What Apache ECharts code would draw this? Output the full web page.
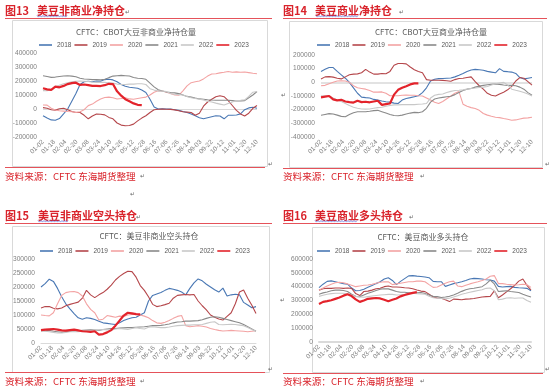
<!DOCTYPE html>
<html><head><meta charset="utf-8">
<script src="https://cdn.jsdelivr.net/npm/echarts/dist/echarts.min.js"></script>
<style>html,body{margin:0;padding:0;background:#fff}#c{width:550px;height:388px}</style>
</head><body><div id="c"></div><script>
// ---------- data ----------
const tickLabels = ['01-02','01-18','02-04','02-20','03-08','03-24','04-10','04-26','05-12','05-28','06-16','07-06','07-26','08-14','09-03','09-22','10-12','11-01','11-20','12-10'];
const years = ['2018','2019','2020','2021','2022','2023'];
const weekCount = 53;

// 图13 美豆非商业净持仓
const nc_net_2018 = [-48000,-65000,-78000,-80000,-68000,-35000,0,55000,110000,175000,195000,198000,195000,200000,198000,210000,212000,208000,195000,175000,162000,155000,152000,148000,135000,118000,70000,15000,0,2000,0,0,-5000,-10000,-18000,-25000,-35000,-48000,-62000,-70000,-62000,-55000,-48000,-50000,-70000,-45000,-45000,-43000,-35000,-5000,8000,12000,5000];
const nc_net_2019 = [10000,5000,-5000,-8000,2000,5000,-5000,-18000,-25000,-25000,-45000,-70000,-50000,-36000,-38000,-42000,-60000,-70000,-100000,-115000,-120000,-118000,-108000,-85000,-65000,-48000,-25000,-5000,-2000,0,-2000,-3000,-6000,-12000,-20000,-22000,-25000,-45000,-30000,20000,50000,70000,88000,95000,88000,60000,25000,-10000,-35000,-50000,-30000,5000,25000];
const nc_net_2020 = [29000,28000,5000,-7000,-12000,-15000,-18000,-20000,-24000,-20000,-5000,24000,35000,55000,71000,82000,85000,80000,71000,75000,80000,72000,70000,75000,80000,85000,100000,120000,130000,128000,120000,110000,100000,98000,130000,165000,188000,195000,200000,215000,235000,250000,252000,258000,262000,268000,262000,265000,262000,264000,260000,255000,252000];
const nc_net_2021 = [238000,232000,226000,228000,232000,236000,238000,235000,230000,220000,214000,212000,210000,210000,208000,212000,224000,235000,238000,240000,238000,236000,225000,220000,218000,212000,185000,158000,138000,128000,122000,118000,115000,110000,100000,90000,85000,78000,72000,70000,66000,64000,63000,62000,62000,63000,60000,57000,58000,60000,80000,100000,125000];
const nc_net_2022 = [131000,130000,140000,158000,170000,180000,188000,194000,198000,200000,198000,196000,192000,190000,190000,190000,188000,185000,178000,175000,175000,178000,178000,180000,180000,175000,145000,135000,128000,128000,125000,110000,105000,103000,100000,90000,80000,75000,70000,65000,55000,50000,42000,35000,28000,40000,50000,60000,62000,65000,90000,120000,125000];
const nc_net_2023 = [148000,140000,136000,160000,155000,165000,178000,185000,188000,172000,175000,170000,165000,165000,164000,170000,180000,178000,126000,95000,70000,55000,40000,30000,28000];

// 图14 美豆商业净持仓
const c_net_2018 = [80000,95000,108000,108000,80000,55000,30000,0,-40000,-80000,-108000,-112000,-115000,-125000,-130000,-137000,-142000,-145000,-152000,-155000,-130000,-118000,-112000,-105000,-98000,-75000,-40000,10000,22000,27000,28000,30000,32000,40000,52000,65000,80000,90000,95000,92000,88000,80000,75000,70000,100000,80000,78000,75000,65000,35000,25000,30000,35000];
const c_net_2019 = [24000,40000,42000,38000,30000,25000,40000,55000,60000,62000,70000,95000,75000,60000,60000,65000,63000,80000,125000,138000,138000,135000,112000,92000,80000,70000,20000,15000,15000,15000,14000,12000,8000,20000,28000,30000,35000,40000,5000,-25000,-50000,-80000,-95000,-100000,-85000,-72000,-55000,-30000,10000,35000,30000,5000,-20000];
const c_net_2020 = [-25000,-22000,-10000,0,10000,12000,10000,0,-25000,-40000,-45000,-50000,-60000,-72000,-72000,-70000,-80000,-98000,-98000,-98000,-95000,-93000,-95000,-95000,-98000,-100000,-115000,-130000,-145000,-155000,-140000,-120000,-100000,-80000,-68000,-160000,-175000,-185000,-192000,-205000,-228000,-240000,-248000,-255000,-258000,-265000,-270000,-278000,-275000,-268000,-262000,-260000,-255000];
const c_net_2021 = [-241000,-235000,-229000,-232000,-240000,-249000,-252000,-235000,-222000,-215000,-215000,-215000,-212000,-207000,-205000,-215000,-225000,-235000,-243000,-245000,-240000,-232000,-225000,-220000,-222000,-215000,-190000,-145000,-122000,-115000,-110000,-105000,-102000,-90000,-75000,-60000,-50000,-45000,-35000,-28000,-22000,-18000,-15000,-12000,-15000,-20000,-22000,-22000,-25000,-35000,-50000,-75000,-95000];
const c_net_2022 = [-98000,-100000,-100000,-115000,-130000,-140000,-155000,-170000,-182000,-190000,-195000,-196000,-195000,-190000,-185000,-182000,-175000,-170000,-165000,-165000,-163000,-163000,-162000,-163000,-160000,-158000,-155000,-115000,-95000,-88000,-85000,-75000,-66000,-60000,-58000,-55000,-50000,-45000,-42000,-38000,-35000,-30000,-20000,-10000,-5000,0,-20000,-50000,-58000,-65000,-75000,-85000,-100000];
const c_net_2023 = [-110000,-105000,-100000,-125000,-132000,-128000,-140000,-145000,-148000,-135000,-145000,-142000,-146000,-140000,-135000,-165000,-160000,-155000,-90000,-55000,-40000,-28000,-15000,-8000,-7000];

// 图15 美豆非商业空头持仓
const nc_short_2018 = [200000,212000,228000,220000,195000,165000,140000,122000,105000,90000,85000,90000,88000,84000,78000,72000,70000,68000,66000,72000,80000,86000,90000,92000,100000,108000,150000,170000,175000,180000,188000,195000,192000,188000,182000,172000,195000,215000,229000,222000,210000,200000,190000,182000,196000,168000,172000,174000,172000,145000,136000,126000,130000];
const nc_short_2019 = [125000,130000,130000,124000,122000,125000,133000,138000,142000,146000,160000,188000,172000,162000,172000,180000,192000,207000,225000,238000,248000,256000,255000,235000,205000,188000,165000,138000,130000,133000,137000,142000,160000,170000,172000,173000,172000,173000,150000,133000,118000,100000,92000,86000,82000,95000,108000,140000,182000,189000,160000,135000,105000];
const nc_short_2020 = [100000,98000,97000,108000,140000,170000,180000,183000,184000,180000,168000,140000,120000,108000,82000,85000,98000,95000,92000,96000,95000,100000,102000,102000,100000,96000,90000,80000,72000,70000,74000,80000,88000,95000,98000,62000,58000,60000,62000,60000,57000,52000,48000,45000,43000,44000,45000,44000,43000,42000,40000,42000,44000];
const nc_short_2021 = [45000,44000,45000,42000,40000,38000,40000,42000,43000,44000,45000,46000,47000,46000,45000,48000,50000,52000,52000,53000,54000,55000,55000,56000,57000,58000,60000,62000,62000,63000,65000,68000,72000,75000,76000,78000,78000,79000,80000,83000,88000,92000,94000,92000,88000,84000,80000,76000,72000,66000,58000,50000,42000];
const nc_short_2022 = [42000,42000,40000,38000,36000,36000,38000,40000,40000,40000,42000,44000,44000,46000,47000,48000,47000,46000,50000,52000,50000,48000,52000,55000,52000,50000,56000,58000,56000,55000,55000,57000,60000,62000,63000,64000,64000,65000,65000,66000,70000,74000,76000,66000,65000,66000,67000,66000,64000,62000,55000,48000,42000];
const nc_short_2023 = [46000,48000,49000,50000,48000,45000,44000,46000,48000,45000,42000,41000,40000,42000,30000,32000,38000,46000,62000,80000,98000,108000,106000,103000,102000];

// 图16 美豆商业多头持仓
const c_long_2018 = [393000,418000,438000,442000,435000,428000,422000,418000,390000,370000,372000,382000,395000,408000,422000,435000,455000,465000,445000,415000,438000,458000,478000,480000,476000,474000,470000,465000,438000,436000,436000,402000,412000,422000,428000,435000,445000,456000,460000,458000,455000,450000,448000,440000,402000,398000,400000,402000,395000,392000,390000,388000,370000];
const c_long_2019 = [375000,385000,388000,388000,390000,390000,388000,390000,388000,350000,336000,365000,368000,375000,385000,388000,400000,405000,398000,398000,396000,392000,390000,385000,376000,368000,364000,345000,325000,318000,316000,305000,292000,310000,308000,305000,310000,312000,315000,320000,325000,328000,330000,370000,320000,340000,362000,385000,410000,440000,455000,410000,376000];
const c_long_2020 = [375000,390000,405000,418000,428000,432000,428000,420000,410000,400000,405000,410000,412000,418000,425000,432000,435000,435000,415000,420000,425000,430000,435000,436000,440000,440000,436000,415000,395000,398000,412000,425000,435000,440000,405000,400000,410000,420000,428000,435000,445000,456000,475000,480000,422000,422000,418000,415000,412000,414000,418000,415000,395000];
const c_long_2021 = [345000,355000,362000,370000,375000,375000,372000,365000,345000,330000,328000,340000,352000,362000,372000,382000,385000,384000,375000,365000,360000,360000,356000,352000,355000,358000,350000,340000,330000,328000,322000,325000,330000,340000,352000,366000,378000,385000,388000,394000,400000,420000,448000,420000,365000,368000,370000,365000,362000,358000,345000,335000,325000];
const c_long_2022 = [330000,338000,345000,350000,352000,352000,352000,348000,340000,330000,326000,324000,328000,332000,336000,340000,342000,344000,344000,340000,342000,345000,350000,352000,350000,348000,345000,330000,320000,316000,314000,312000,316000,325000,335000,345000,352000,360000,366000,372000,378000,388000,390000,370000,305000,310000,318000,320000,316000,318000,318000,300000,288000];
const c_long_2023 = [275000,290000,295000,302000,312000,322000,335000,345000,332000,308000,290000,300000,312000,315000,318000,315000,305000,295000,305000,315000,330000,340000,348000,355000,360000];

// ---------- styles / layout ----------
const lineColors = ['#4A78B4','#B5474B','#F3A3A3','#8A8A8A','#C8C8C8','#E3232B'];
const lineWidths = [1.1,1.1,1.1,1.1,1.1,2.2];
const RED = '#D9232B';
const CJK = '"Noto Sans CJK SC", sans-serif';
const LAT = '"Liberation Sans", Arial, sans-serif';

const panels = [
  {num:'图13', head:'美豆非商业净持仓', hx:5, hy:11, textX:37, lineY:18, lx1:272, wave:[37,68],
   box:[12,20,255,146], footLineY:167, footLx1:265, footY:176, footMarkX:140, ret:[[125,12],[268,164]],
   grid:{left:43,top:53,width:214,height:84}, y:[-200000,400000,100000], zero:{color:'#D9D9D9',width:1},
   title:'CFTC：CBOT大豆非商业净持仓量', tx:136, ty:32, legLeft:39, legY:45,
   series:[nc_net_2018,nc_net_2019,nc_net_2020,nc_net_2021,nc_net_2022,nc_net_2023]},
  {num:'图14', head:'美豆商业净持仓', hx:283, hy:11, textX:315, lineY:18, lx1:547, wave:[316,358],
   box:[289,21,253,146], footLineY:168, footLx1:543, footY:176, footMarkX:420, ret:[[399,12],[281,95],[545,164]],
   grid:{left:321,top:55,width:211,height:82}, y:[-400000,200000,100000], zero:{color:'#E2E2E2',width:2},
   title:'CFTC：CBOT大豆商业净持仓量', tx:431, ty:32, legLeft:317, legY:45,
   series:[c_net_2018,c_net_2019,c_net_2020,c_net_2021,c_net_2022,c_net_2023]},
  {num:'图15', head:'美豆非商业空头持仓', hx:5, hy:216, textX:38, lineY:223, lx1:272, wave:[38,68],
   box:[12,226,257,146], footLineY:372, footLx1:265, footY:381, footMarkX:140, ret:[[136,217],[268,369],[130,194]],
   grid:{left:41,top:259,width:215,height:84}, y:[0,300000,50000], axisW:1,
   title:'CFTC：美豆非商业空头持仓', tx:149, ty:236, legLeft:40, legY:251,
   series:[nc_short_2018,nc_short_2019,nc_short_2020,nc_short_2021,nc_short_2022,nc_short_2023]},
  {num:'图16', head:'美豆商业多头持仓', hx:283, hy:216, textX:315, lineY:223, lx1:547, wave:[315,358],
   box:[312,227,232,145], footLineY:373, footLx1:543, footY:381, footMarkX:420, ret:[[409,217],[280,300],[545,369]],
   grid:{left:319,top:259,width:212,height:83}, y:[0,600000,100000], axisW:2,
   title:'CFTC：美豆商业多头持仓', tx:423, ty:237, legLeft:317, legY:251,
   series:[c_long_2018,c_long_2019,c_long_2020,c_long_2021,c_long_2022,c_long_2023]}
];

const grids=[], xAxes=[], yAxes=[], series=[], legends=[], graphics=[];
const toX = i => i * (tickLabels.length - 1) / (weekCount - 1);

function txt(x, y, text, font, fill, align) {
  graphics.push({type:'text', x:x, y:y, silent:true,
    style:{text:text, font:font, fill:fill, align:align||'left', verticalAlign:'middle', textAlign:align||'left', textVerticalAlign:'middle'}});
}
function hline(x0, x1, y, color, w) {
  graphics.push({type:'line', silent:true, shape:{x1:x0,y1:y,x2:x1,y2:y}, style:{stroke:color, lineWidth:w||1}});
}

panels.forEach((p, pi) => {
  grids.push(Object.assign({containLabel:false, outerBoundsMode:'none'}, p.grid));
  xAxes.push({type:'value', gridIndex:pi, min:0, max:tickLabels.length-1, interval:1,
    axisLabel:{rotate:45, fontSize:6.5, color:'#7F7F7F', margin:4, fontFamily:LAT,
      formatter:v => tickLabels[Math.round(v)] || ''},
    axisTick:{show:false}, splitLine:{show:false},
    axisLine:{show: !!p.axisW, onZero:false, lineStyle:{color:'#DADADA', width:p.axisW||1}}});
  yAxes.push({type:'value', gridIndex:pi, min:p.y[0], max:p.y[1], interval:p.y[2],
    axisLabel:{fontSize:6.6, color:'#7F7F7F', margin:6, fontFamily:LAT, formatter:v => String(v)},
    axisLine:{show:false}, axisTick:{show:false}, splitLine:{show:false}});
  p.series.forEach((arr, k) => {
    const s = {type:'line', name:years[k], xAxisIndex:pi, yAxisIndex:pi,
      data: arr.map((v, i) => [toX(i), v]), symbol:'none', showSymbol:false,
      lineStyle:{color:lineColors[k], width:lineWidths[k]}, itemStyle:{color:lineColors[k]},
      z: 2 + k, silent:true, animation:false};
    if (k === 0 && p.zero) {
      s.markLine = {silent:true, symbol:'none', animation:false, label:{show:false},
        lineStyle:{color:p.zero.color, width:p.zero.width, type:'solid'}, data:[{yAxis:0}], z:1};
    }
    series.push(s);
  });
  legends.push({top:p.legY - 4, left:p.legLeft, itemWidth:13, itemHeight:1.6, itemGap:3, icon:'rect',
    data:years.map((y, k) => ({name:y, itemStyle:{color:lineColors[k]}})), selectedMode:false, padding:0,
    textStyle:{fontSize:6.5, color:'#595959', fontFamily:LAT, lineHeight:8}});

  // box
  graphics.push({type:'rect', silent:true, z:-1, shape:{x:p.box[0]+0.5, y:p.box[1]+0.5, width:p.box[2], height:p.box[3]},
    style:{fill:'none', stroke:'#D9D9D9', lineWidth:1}});
  // header
  txt(p.hx, p.hy, p.num, 'bold 11px ' + CJK, RED);
  txt(p.textX, p.hy, p.head, 'bold 11px ' + CJK, RED);
  hline(p.hx, p.lx1, p.lineY + 0.5, '#E5525A', 1);
  // wavy spell-check underline
  const pts = [];
  for (let x = p.wave[0], j = 0; x <= p.wave[1]; x += 1.5, j++) pts.push([x, p.hy + 5.3 + (j % 2 ? 0.8 : -0.8)]);
  graphics.push({type:'polyline', silent:true, shape:{points:pts}, style:{stroke:'#4A64D8', lineWidth:0.7, fill:'none'}});
  // chart title
  txt(p.tx, p.ty, p.title, '8px ' + CJK, '#595959', 'center');
  // footer
  hline(p.hx, p.footLx1, p.footLineY + 0.5, '#E5525A', 1);
  txt(p.hx, p.footY, '资料来源：CFTC 东海期货整理', '9.6px ' + CJK, RED);
  p.ret.forEach(r => txt(r[0], r[1], '\u21B5', '6px "DejaVu Sans"', '#666'));
  txt(p.footMarkX, p.footY, '\u21B5', '6px "DejaVu Sans"', '#666');
});

const chart = echarts.init(document.getElementById('c'), null, {renderer:'canvas'});
chart.setOption({
  backgroundColor:'#ffffff', animation:false,
  grid:grids, xAxis:xAxes, yAxis:yAxes, legend:legends, series:series, graphic:graphics
});
</script></body></html>
